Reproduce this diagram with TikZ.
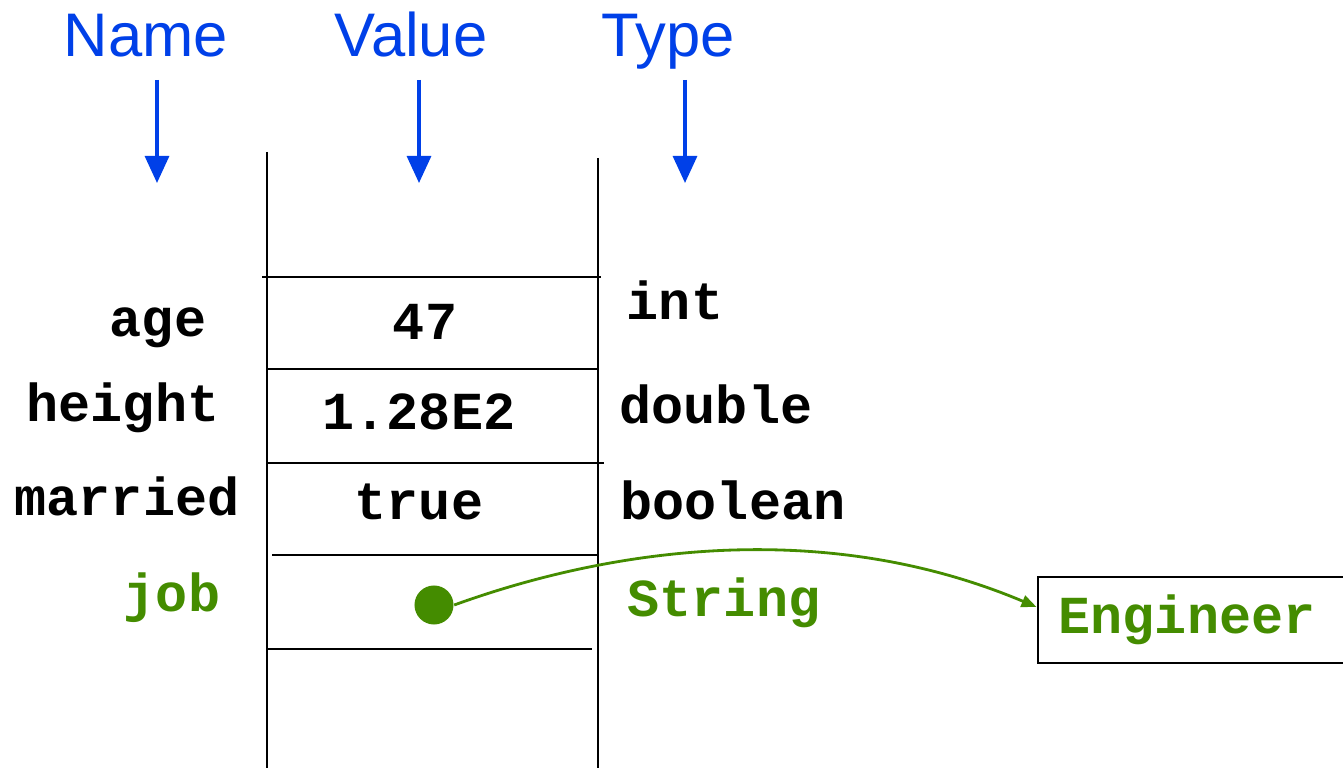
\documentclass[tikz,border=0pt]{standalone}
\usepackage{fontspec}
\setmainfont{Liberation Sans}
\newfontfamily\monob{Liberation Mono}
\usetikzlibrary{arrows.meta}
\definecolor{hblue}{RGB}{0,64,232}
\definecolor{jgreen}{RGB}{68,140,0}
\tikzset{
  head/.style={font=\fontsize{17.5}{20}\selectfont, text=hblue, anchor=base, inner sep=0pt},
  code/.style={font=\fontsize{15.2}{18}\monob\bfseries, anchor=base, inner sep=0pt},
  gcode/.style={code, text=jgreen},
  blueArr/.style={draw=hblue, line width=0.9pt, -{Triangle[length=0.27cm,width=0.24cm]}},
  rule/.style={draw=black, line width=0.6pt},
}
\begin{document}
\begin{tikzpicture}[x=0.01cm,y=-0.01cm]
\useasboundingbox (0,0) rectangle (1343,768);
% headers
\node[head] (hname) at (146,57) {Name};
\node[head] (hval) at (411,57) {Value};
\node[head] (htype) at (668,57) {Type};
\coordinate (a1s) at (157,80); \coordinate (a1e) at (157,183);
\coordinate (a2s) at (419,80); \coordinate (a2e) at (419,183);
\coordinate (a3s) at (685,80); \coordinate (a3e) at (685,183);
\draw[blueArr] (a1s) -- (a1e);
\draw[blueArr] (a2s) -- (a2e);
\draw[blueArr] (a3s) -- (a3e);
% frame lines
\coordinate (vl1) at (267,152); \coordinate (vl2) at (267,768);
\coordinate (vr1) at (598,158); \coordinate (vr2) at (598,768);
\draw[rule] (vl1) -- (vl2);
\draw[rule] (vr1) -- (vr2);
\coordinate (h1a) at (262,277); \coordinate (h1b) at (601,277);
\coordinate (h2a) at (267,369); \coordinate (h2b) at (598,369);
\coordinate (h3a) at (267,463); \coordinate (h3b) at (604,463);
\coordinate (h4a) at (272,555); \coordinate (h4b) at (598,555);
\coordinate (h5a) at (267,649); \coordinate (h5b) at (592,649);
\draw[rule] (h1a) -- (h1b);
\draw[rule] (h2a) -- (h2b);
\draw[rule] (h3a) -- (h3b);
\draw[rule] (h4a) -- (h4b);
\draw[rule] (h5a) -- (h5b);
% names
\node[code] (nage) at (158,337) {age};
\node[code] (nheight) at (123,422) {height};
\node[code] (nmarried) at (127,516) {married};
\node[gcode] (njob) at (172,612) {job};
% values
\node[code] (v47) at (425,340) {47};
\node[code] (vh) at (419,430) {1.28E2};
\node[code] (vt) at (419,520) {true};
\node[circle, fill=jgreen, minimum size=0.39cm, inner sep=0pt] (dot) at (434,605) {};
% types
\node[code] (tint) at (675,320) {int};
\node[code] (tdouble) at (716,424) {double};
\node[code] (tbool) at (733,520) {boolean};
\node[gcode] (tstr) at (724,617) {String};
% Engineer box
\node[draw=black, line width=0.8pt, minimum width=3.06cm, minimum height=0.86cm, inner sep=0pt] (engbox) at (1191,620) {};
\node[gcode] (eng) at (1187,634) {Engineer};
\draw[jgreen, line width=0.8pt, -{Triangle[length=0.15cm,width=0.12cm]}]
  (dot.east) .. controls (620,545) and (830,520) .. (engbox.west |- 0,607);
\end{tikzpicture}
\end{document}
